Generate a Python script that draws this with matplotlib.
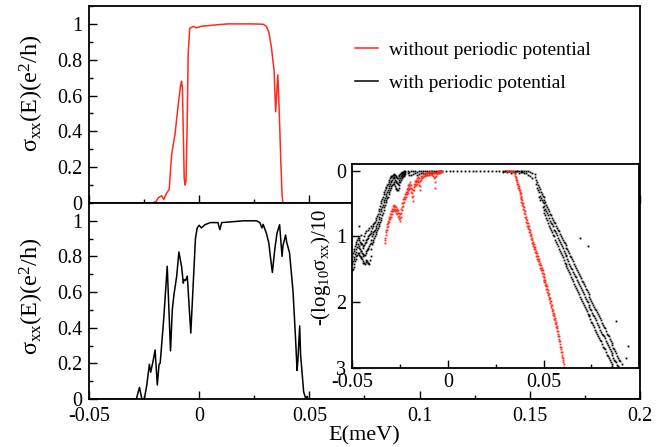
import matplotlib
matplotlib.use('Agg')
import matplotlib.pyplot as plt
import numpy as np
from matplotlib.ticker import MultipleLocator, FixedLocator, FuncFormatter
from matplotlib.lines import Line2D

plt.rcParams['font.family'] = ['Liberation Serif', 'DejaVu Serif']
plt.rcParams['mathtext.fontset'] = 'custom'
plt.rcParams['mathtext.rm'] = 'Liberation Serif'
plt.rcParams['mathtext.it'] = 'Liberation Serif:italic'
plt.rcParams['mathtext.default'] = 'regular'

# ---------------- data ----------------
# top panel: without periodic potential
red_E = [-0.05, -0.021, -0.0195, -0.0185, -0.017, -0.016, -0.0148, -0.0136, -0.0125,
         -0.0117, -0.011, -0.0095, -0.0084, -0.008, -0.0076, -0.0068, -0.0064, -0.006,
         -0.0055, -0.005, -0.0043, -0.0027, -0.0012, 0.001, 0.004, 0.008, 0.013, 0.018,
         0.024, 0.029, 0.0305, 0.0317, 0.0328, 0.0335, 0.034, 0.0344, 0.0347, 0.0352,
         0.0357, 0.036, 0.0365, 0.0371, 0.0376, 0.038, 0.2]
red_sigma = [0, 0, 0.01, 0.03, 0.04, 0.02, 0.055, 0.075, 0.27,
             0.33, 0.38, 0.55, 0.66, 0.68, 0.64, 0.14, 0.10, 0.12,
             0.40, 0.83, 0.975, 0.986, 0.978, 0.987, 0.99, 0.995, 1.0, 1.0,
             1.0, 0.998, 0.987, 0.95, 0.866, 0.79, 0.74, 0.60, 0.51, 0.62,
             0.716, 0.62, 0.44, 0.21, 0.045, 0.0, 0.0]

# bottom panel: with periodic potential
black_E = [-0.05, -0.0285, -0.0271, -0.026, -0.0249, -0.0238, -0.0226, -0.022, -0.0208,
           -0.020, -0.019, -0.0182, -0.0177, -0.0166, -0.016, -0.0145, -0.013, -0.0122,
           -0.0115, -0.0102, -0.0092, -0.008, -0.0072, -0.0069, -0.0062, -0.0054, -0.0038,
           -0.0017, -0.0009, 0.0, 0.001, 0.0026, 0.005, 0.0085, 0.0094, 0.0102, 0.0154,
           0.020, 0.026, 0.0275, 0.0285, 0.029, 0.0305, 0.0316, 0.0321, 0.0332, 0.0343,
           0.0353, 0.0365, 0.0376, 0.038, 0.0392, 0.0397, 0.041, 0.0426, 0.0438, 0.0444,
           0.0448, 0.0456, 0.046, 0.0474, 0.0484, 0.049, 0.0494, 0.0498, 0.2]
black_sigma = [0, 0, 0.065, 0, 0, 0.075, 0.195, 0.15, 0.22,
               0.275, 0.078, 0.195, 0.20, 0.37, 0.465, 0.745, 0.27, 0.50,
               0.58, 0.69, 0.825, 0.745, 0.65, 0.67, 0.665, 0.69, 0.37,
               0.90, 0.96, 0.975, 0.96, 0.978, 0.99, 0.99, 0.95, 0.99, 0.995,
               1.0, 1.0, 0.99, 0.96, 0.98, 0.93, 0.875, 0.82, 0.71, 0.84,
               0.93, 0.978, 0.80, 0.86, 0.92, 0.88, 0.82, 0.60, 0.32, 0.16,
               0.22, 0.41, 0.25, 0.04, 0.0, 0.015, 0.0, 0.0, 0.0]

# inset: -(log10 sigma)/10, scattered points given as (E, [values read at that E])
inset_black_left = [
    (-0.0498, [1.52, 1.41, 1.30]), (-0.0495, [1.50, 1.38, 1.26]),
    (-0.0492, [1.47, 1.35, 1.22]), (-0.0488, [1.42, 1.31, 1.19]),
    (-0.0485, [1.38, 1.27, 1.15]), (-0.0481, [1.34, 1.24, 1.11]),
    (-0.0478, [1.30, 1.20, 1.08]), (-0.0474, [1.28, 1.16, 1.05]),
    (-0.0470, [1.25, 1.12, 1.02]), (-0.0466, [1.26, 1.15, 1.03]),
    (-0.0463, [1.28, 1.18, 1.05, 0.85]), (-0.0459, [1.30, 1.20, 1.08]),
    (-0.0455, [1.32, 1.22, 1.10, 0.98]), (-0.0451, [1.33, 1.23, 1.11]),
    (-0.0448, [1.35, 1.25, 1.12]), (-0.0444, [1.38, 1.27, 1.15]),
    (-0.0440, [1.40, 1.30, 1.18, 1.05]), (-0.0436, [1.41, 1.29, 1.14, 1.00]),
    (-0.0432, [1.42, 1.28, 1.10, 0.95]), (-0.0428, [1.39, 1.25, 1.08]),
    (-0.0425, [1.36, 1.22, 1.05, 0.92]), (-0.0421, [1.38, 1.21, 1.04]),
    (-0.0418, [1.40, 1.20, 1.02, 0.90]), (-0.0414, [1.41, 1.18, 1.00]),
    (-0.0410, [1.42, 1.15, 0.98, 0.88]), (-0.0406, [1.36, 1.12, 0.96]),
    (-0.0403, [1.30, 1.10, 0.95, 0.84]), (-0.0399, [1.20, 1.05, 0.92]),
    (-0.0395, [1.12, 1.00, 0.88]), (-0.0391, [1.08, 0.97, 0.85]),
    (-0.0388, [1.05, 0.94, 0.82]), (-0.0384, [1.02, 0.92, 0.80]),
    (-0.0380, [1.00, 0.90, 0.78]), (-0.0376, [0.97, 0.87, 0.75]),
    (-0.0373, [0.94, 0.84, 0.72]), (-0.0369, [0.91, 0.81, 0.69]),
    (-0.0365, [0.88, 0.78, 0.66]), (-0.0361, [0.85, 0.74, 0.62]),
    (-0.0358, [0.82, 0.70, 0.58]), (-0.0354, [0.78, 0.66, 0.54]),
    (-0.0350, [0.75, 0.62, 0.50]), (-0.0346, [0.72, 0.58, 0.47]),
    (-0.0343, [0.68, 0.55, 0.44]), (-0.0339, [0.64, 0.52, 0.40]),
    (-0.0335, [0.60, 0.48, 0.36]), (-0.0331, [0.56, 0.45, 0.33]),
    (-0.0328, [0.52, 0.42, 0.30]), (-0.0324, [0.48, 0.38, 0.27]),
    (-0.0320, [0.45, 0.35, 0.25]), (-0.0316, [0.42, 0.32, 0.22]),
    (-0.0313, [0.40, 0.30, 0.20]), (-0.0309, [0.36, 0.27, 0.17]),
    (-0.0305, [0.32, 0.24, 0.14]), (-0.0301, [0.29, 0.21, 0.12]),
    (-0.0298, [0.26, 0.18, 0.10]), (-0.0294, [0.24, 0.16, 0.09]),
    (-0.0290, [0.22, 0.14, 0.08]), (-0.0286, [0.20, 0.12, 0.06]),
    (-0.0283, [0.18, 0.10, 0.05]), (-0.0279, [0.21, 0.12, 0.06]),
    (-0.0275, [0.24, 0.14, 0.07]), (-0.0271, [0.26, 0.16, 0.08]),
    (-0.0268, [0.28, 0.18, 0.10]), (-0.0264, [0.29, 0.19, 0.11]),
    (-0.0260, [0.30, 0.20, 0.12]), (-0.0256, [0.26, 0.17, 0.09]),
    (-0.0253, [0.22, 0.14, 0.07]), (-0.0249, [0.18, 0.11, 0.05]),
    (-0.0245, [0.15, 0.09, 0.04]), (-0.0241, [0.12, 0.07, 0.03]),
    (-0.0238, [0.10, 0.06, 0.02]), (-0.0234, [0.09, 0.05, 0.02]),
    (-0.0230, [0.08, 0.04, 0.02]), (-0.0226, [0.06, 0.03, 0.01]),
    (-0.0222, [0.05, 0.02, 0.00]),
]
inset_black_top = [
    (-0.021, [0.0, 0.04]), (-0.020, [0.02, 0.07]), (-0.019, [0.0, 0.06]),
    (-0.018, [0.01, 0.05]), (-0.017, [0.0, 0.03]), (-0.016, [0.02, 0.06]),
    (-0.015, [0.0, 0.05]), (-0.014, [0.01, 0.04]), (-0.013, [0.0, 0.03]),
    (-0.012, [0.01, 0.05]), (-0.011, [0.0, 0.04]), (-0.010, [0.01, 0.03]),
    (-0.009, [0.0, 0.02]), (-0.008, [0.01, 0.03]), (-0.007, [0.0, 0.03]),
    (-0.006, [0.0, 0.02]), (-0.005, [0.0, 0.02]), (-0.004, [0.0, 0.01]),
    (-0.003, [0.0]), (-0.001, [0.0]), (0.001, [0.0]), (0.003, [0.0]),
    (0.005, [0.0]), (0.007, [0.0]), (0.009, [0.0]), (0.011, [0.0]),
    (0.013, [0.0]), (0.015, [0.0]), (0.017, [0.0]), (0.019, [0.0]),
    (0.021, [0.0]), (0.023, [0.0]), (0.025, [0.0]), (0.027, [0.0]),
    (0.029, [0.0, 0.02]), (0.030, [0.0, 0.01]), (0.031, [0.0, 0.02]),
    (0.032, [0.0, 0.01]), (0.033, [0.0, 0.03]), (0.034, [0.0, 0.02]),
    (0.035, [0.0, 0.02]), (0.036, [0.0, 0.01]), (0.037, [0.0, 0.03]),
    (0.038, [0.0, 0.02]), (0.039, [0.0, 0.02]), (0.040, [0.0, 0.03]),
    (0.041, [0.0, 0.04]), (0.042, [0.01, 0.06]), (0.043, [0.02, 0.08]),
    (0.044, [0.04, 0.12]),
]
inset_black_right = [
    (0.0455, [0.05, 0.10]), (0.046, [0.15, 0.20]), (0.0465, [0.18, 0.26]),
    (0.047, [0.22, 0.30]), (0.0475, [0.25, 0.33, 0.40]), (0.048, [0.28, 0.38, 0.45]),
    (0.0485, [0.32, 0.42]), (0.049, [0.35, 0.45]), (0.0495, [0.38, 0.48, 0.56]),
    (0.050, [0.40, 0.50, 0.60]), (0.0505, [0.45, 0.54, 0.64]),
    (0.051, [0.48, 0.58, 0.68]), (0.0515, [0.52, 0.62, 0.72]),
    (0.052, [0.55, 0.65, 0.75]), (0.0525, [0.58, 0.68, 0.80]),
    (0.053, [0.62, 0.72, 0.85]), (0.0535, [0.66, 0.76, 0.88]),
    (0.054, [0.68, 0.80, 0.90]), (0.0545, [0.72, 0.82, 0.94]),
    (0.055, [0.75, 0.85, 0.98]), (0.0555, [0.78, 0.90, 1.00]),
    (0.056, [0.80, 0.92, 1.05]), (0.0565, [0.84, 0.95, 1.08]),
    (0.057, [0.88, 0.98, 1.12]), (0.0575, [0.90, 1.02, 1.15]),
    (0.058, [0.92, 1.05, 1.20]), (0.0585, [0.96, 1.08, 1.22]),
    (0.059, [1.00, 1.12, 1.25]), (0.0595, [1.02, 1.15, 1.28]),
    (0.060, [1.05, 1.18, 1.32]), (0.0605, [1.08, 1.22, 1.36]),
    (0.061, [1.10, 1.25, 1.40]), (0.0615, [1.14, 1.28, 1.42]),
    (0.062, [1.18, 1.30, 1.45]), (0.0625, [1.20, 1.34, 1.48]),
    (0.063, [1.22, 1.38, 1.52]), (0.0635, [1.26, 1.42, 1.55]),
    (0.064, [1.30, 1.45, 1.58]), (0.0645, [1.32, 1.48, 1.62]),
    (0.065, [1.35, 1.50, 1.65]), (0.0655, [1.38, 1.54, 1.68]),
    (0.066, [1.42, 1.58, 1.72]), (0.0665, [1.45, 1.60, 1.75]),
    (0.067, [1.48, 1.62, 1.78]), (0.0675, [1.52, 1.66, 1.82]),
    (0.068, [1.55, 1.70, 1.85]), (0.0685, [1.58, 1.72, 1.88]),
    (0.069, [1.60, 1.75, 1.92, 1.02]), (0.0695, [1.64, 1.78, 1.95]),
    (0.070, [1.68, 1.82, 1.98]), (0.0705, [1.70, 1.85, 2.02]),
    (0.071, [1.72, 1.88, 2.05]), (0.0715, [1.76, 1.92, 2.08]),
    (0.072, [1.80, 1.95, 2.10]), (0.0725, [1.82, 1.98, 2.14]),
    (0.073, [1.85, 2.00, 2.18, 1.15]), (0.0735, [1.88, 2.04, 2.20]),
    (0.074, [1.92, 2.08, 2.22]), (0.0745, [1.95, 2.10, 2.26]),
    (0.075, [1.98, 2.12, 2.30]), (0.0755, [2.02, 2.16, 2.32]),
    (0.076, [2.05, 2.20, 2.35]), (0.0765, [2.08, 2.22, 2.38]),
    (0.077, [2.10, 2.25, 2.42]), (0.0775, [2.12, 2.28, 2.45]),
    (0.078, [2.15, 2.32, 2.48]), (0.0785, [2.18, 2.35, 2.52]),
    (0.079, [2.22, 2.38, 2.55]), (0.0795, [2.25, 2.42, 2.58]),
    (0.080, [2.28, 2.45, 2.60]), (0.0805, [2.32, 2.48, 2.64]),
    (0.081, [2.35, 2.50, 2.68]), (0.0815, [2.38, 2.52, 2.70]),
    (0.082, [2.40, 2.55, 2.72]), (0.0825, [2.44, 2.60, 2.76]),
    (0.083, [2.48, 2.62, 2.80]), (0.0835, [2.50, 2.65, 2.82]),
    (0.084, [2.52, 2.68, 2.85]), (0.0845, [2.56, 2.72, 2.88]),
    (0.085, [2.60, 2.75, 2.92]), (0.0855, [2.62, 2.78, 2.95]),
    (0.086, [2.65, 2.80, 2.98]), (0.0865, [2.70, 2.85]),
    (0.087, [2.72, 2.88]), (0.0875, [2.75, 2.90]),
    (0.088, [2.78, 2.92, 2.29]), (0.0885, [2.82, 2.96]),
    (0.089, [2.85, 2.98]), (0.0895, [2.88]), (0.090, [2.90]),
    (0.091, [2.95]), (0.093, [2.85]), (0.094, [2.67]),
]
inset_red_left = [
    (-0.0326, [1.10, 1.06, 1.02]), (-0.0320, [0.98, 0.94, 0.90]),
    (-0.0315, [0.90, 0.86, 0.82]), (-0.0310, [0.84, 0.80, 0.76]),
    (-0.0305, [0.78, 0.74, 0.70]), (-0.0300, [0.74, 0.70, 0.66]),
    (-0.0295, [0.70, 0.66, 0.62]), (-0.0290, [0.66, 0.62, 0.58]),
    (-0.0285, [0.62, 0.58, 0.54]), (-0.0280, [0.60, 0.56, 0.52]),
    (-0.0275, [0.62, 0.58, 0.54]), (-0.0270, [0.64, 0.60, 0.56]),
    (-0.0265, [0.66, 0.62, 0.58]), (-0.0260, [0.70, 0.65, 0.60]),
    (-0.0255, [0.74, 0.69, 0.64]), (-0.0250, [0.77, 0.72, 0.66]),
    (-0.0245, [0.70, 0.64, 0.58]), (-0.0240, [0.60, 0.55, 0.50]),
    (-0.0235, [0.54, 0.49, 0.44]), (-0.0230, [0.48, 0.44, 0.40]),
    (-0.0225, [0.44, 0.40, 0.36]), (-0.0220, [0.40, 0.36, 0.32]),
    (-0.0215, [0.36, 0.32, 0.28]), (-0.0210, [0.34, 0.30, 0.26]),
    (-0.0205, [0.30, 0.26, 0.22]), (-0.0200, [0.28, 0.24, 0.20]),
    (-0.0195, [0.26, 0.22, 0.18]), (-0.0190, [0.32, 0.27, 0.22]),
    (-0.0185, [0.40, 0.34, 0.28]), (-0.0180, [0.46, 0.38, 0.30]),
    (-0.0175, [0.30, 0.25, 0.20]), (-0.0170, [0.24, 0.20, 0.16]),
    (-0.0165, [0.22, 0.18, 0.14]), (-0.0160, [0.20, 0.16, 0.12]),
    (-0.0155, [0.18, 0.14, 0.10]), (-0.0150, [0.22, 0.17, 0.12]),
    (-0.0145, [0.30, 0.23, 0.16]), (-0.0140, [0.14, 0.11, 0.08]),
    (-0.0135, [0.12, 0.08]), (-0.0130, [0.10, 0.05]),
    (-0.0125, [0.09, 0.05]), (-0.0120, [0.08, 0.04]),
    (-0.0115, [0.07, 0.03]), (-0.0110, [0.06, 0.03]),
    (-0.0105, [0.06, 0.02]), (-0.0100, [0.06, 0.02]),
    (-0.0095, [0.05, 0.02]), (-0.0090, [0.05, 0.02]),
    (-0.0085, [0.05, 0.02]), (-0.0080, [0.06, 0.02]),
    (-0.0075, [0.08, 0.03]), (-0.0070, [0.12, 0.04]),
    (-0.0065, [0.26, 0.18, 0.10]), (-0.0060, [0.08, 0.03]),
    (-0.0055, [0.05, 0.02]), (-0.0050, [0.04, 0.01]),
    (-0.0045, [0.03, 0.01]), (-0.0040, [0.03, 0.0]), (-0.0030, [0.02, 0.0]),
]
inset_red_right = [
    (0.031, [0.0]), (0.032, [0.0]), (0.033, [0.0]), (0.034, [0.0, 0.02]),
    (0.0350, [0.03, 0.05, 0.08]), (0.0355, [0.10, 0.12, 0.15]),
    (0.0360, [0.14, 0.17, 0.20]), (0.0365, [0.20, 0.23, 0.26]),
    (0.0370, [0.24, 0.27, 0.30]), (0.0375, [0.30, 0.33, 0.36]),
    (0.0380, [0.34, 0.38, 0.42]), (0.0385, [0.40, 0.44, 0.48]),
    (0.0390, [0.45, 0.49, 0.53]), (0.0395, [0.50, 0.54, 0.58]),
    (0.0400, [0.56, 0.60, 0.64]), (0.0405, [0.62, 0.66, 0.70]),
    (0.0410, [0.70, 0.74, 0.78]), (0.0415, [0.75, 0.80, 0.84]),
    (0.0420, [0.80, 0.84, 0.88]), (0.0425, [0.85, 0.89, 0.93]),
    (0.0430, [0.90, 0.94, 0.98]), (0.0435, [0.96, 1.00, 1.04]),
    (0.0440, [1.02, 1.06, 1.10]), (0.0445, [1.08, 1.12, 1.15]),
    (0.0450, [1.12, 1.16, 1.20]), (0.0455, [1.17, 1.20, 1.24]),
    (0.0460, [1.22, 1.26, 1.30]), (0.0465, [1.26, 1.30, 1.34]),
    (0.0470, [1.30, 1.34, 1.38]), (0.0475, [1.34, 1.38, 1.42]),
    (0.0480, [1.40, 1.44, 1.48]), (0.0485, [1.44, 1.48, 1.52]),
    (0.0490, [1.48, 1.52, 1.56]), (0.0495, [1.52, 1.56, 1.60]),
    (0.0500, [1.58, 1.62, 1.66]), (0.0505, [1.62, 1.66, 1.70]),
    (0.0510, [1.66, 1.70, 1.74]), (0.0515, [1.72, 1.76, 1.80]),
    (0.0520, [1.76, 1.80, 1.85]), (0.0525, [1.82, 1.86, 1.90]),
    (0.0530, [1.88, 1.92, 1.96]), (0.0535, [1.94, 1.98, 2.02]),
    (0.0540, [1.99, 2.04, 2.08]), (0.0545, [2.05, 2.10, 2.14]),
    (0.0550, [2.12, 2.16, 2.20]), (0.0555, [2.18, 2.22, 2.26]),
    (0.0560, [2.24, 2.28, 2.32]), (0.0565, [2.30, 2.34, 2.38]),
    (0.0570, [2.36, 2.40, 2.44]), (0.0575, [2.44, 2.48, 2.52]),
    (0.0580, [2.52, 2.56, 2.60]), (0.0585, [2.60, 2.64, 2.68]),
    (0.0590, [2.68, 2.72, 2.76]), (0.0595, [2.76, 2.80, 2.84]),
    (0.0600, [2.85, 2.88, 2.92]), (0.0605, [2.94, 2.99]),
]

labels = ['without periodic potential', 'with periodic potential']
RED = '#ff2a1a'
BLACK = '#000000'


def flatten(groups):
    xs, ys = [], []
    for e, vals in groups:
        for v in vals:
            xs.append(e)
            ys.append(v)
    return np.array(xs), np.array(ys)


fmt = FuncFormatter(lambda v, p: '%g' % round(v, 4))

fig = plt.figure(figsize=(6.72, 4.47), dpi=100)
ax1 = fig.add_axes([0.1324, 0.5459, 0.8200, 0.4407])
ax2 = fig.add_axes([0.1324, 0.1074, 0.8200, 0.4385])
axi = fig.add_axes([0.5238, 0.1774, 0.4275, 0.4557])

for ax in (ax1, ax2):
    ax.set_xlim(-0.05, 0.2)
    ax.set_ylim(0, 1.1)
    ax.xaxis.set_major_locator(MultipleLocator(0.05))
    ax.xaxis.set_minor_locator(MultipleLocator(0.025))
    ax.yaxis.set_major_locator(MultipleLocator(0.2))
    ax.yaxis.set_minor_locator(MultipleLocator(0.1))
    ax.xaxis.set_major_formatter(fmt)
    ax.yaxis.set_major_formatter(fmt)
    ax.tick_params(which='both', direction='in', top=False, right=False,
                   labelsize=14.5, width=1.0, pad=5)
    ax.tick_params(which='major', length=6)
    ax.tick_params(which='minor', length=3)
    for s in ax.spines.values():
        s.set_linewidth(1.3)

ax1.tick_params(labelbottom=False)
ax2.tick_params(axis='x', pad=6)
ax1.plot(red_E, red_sigma, color=RED, lw=1.1)
ax2.plot(black_E, black_sigma, color=BLACK, lw=1.1)

ylab = r'σ$_{xx}$(E)(e$^{2}$/h)'
ax1.set_ylabel(ylab, fontsize=17.5)
ax2.set_ylabel(ylab, fontsize=17.5)
ax1.yaxis.set_label_coords(-0.078, 0.56)
ax2.yaxis.set_label_coords(-0.078, 0.525)
ax2.set_xlabel('E(meV)', fontsize=16, labelpad=0)

handles = [Line2D([], [], color=RED, lw=1.1), Line2D([], [], color=BLACK, lw=1.1)]
ax1.legend(handles, labels, loc='upper left', bbox_to_anchor=(0.529, 0.908),
           bbox_transform=fig.transFigure, frameon=False, fontsize=14,
           handlelength=1.15, handletextpad=0.55, labelspacing=0.8,
           borderpad=0, borderaxespad=0)

# inset
bx, by = flatten(inset_black_left + inset_black_top + inset_black_right)
rx, ry = flatten(inset_red_left + inset_red_right)
axi.plot(bx, by, ls='none', marker='s', ms=1.3, mew=0, color=BLACK)
axi.plot(rx, ry, ls='none', marker='s', ms=1.3, mew=0, color=RED)
axi.set_xlim(-0.05, 0.1)
axi.set_ylim(3, -0.1)
axi.xaxis.set_major_locator(FixedLocator([-0.05, 0.0, 0.05]))
axi.xaxis.set_minor_locator(FixedLocator([-0.025, 0.025, 0.075]))
axi.yaxis.set_major_locator(FixedLocator([0, 1, 2, 3]))
axi.xaxis.set_major_formatter(fmt)
axi.yaxis.set_major_formatter(fmt)
axi.tick_params(which='both', direction='in', labelsize=14.5, width=1.0, pad=4)
axi.tick_params(which='major', length=6)
axi.tick_params(which='minor', length=3)
for s in axi.spines.values():
    s.set_linewidth(1.3)
axi.set_ylabel(r'-(log$_{10}$σ$_{xx}$)/10', fontsize=15)
axi.yaxis.set_label_coords(-0.065, 0.49)

fig.savefig('out.png', dpi=100)
